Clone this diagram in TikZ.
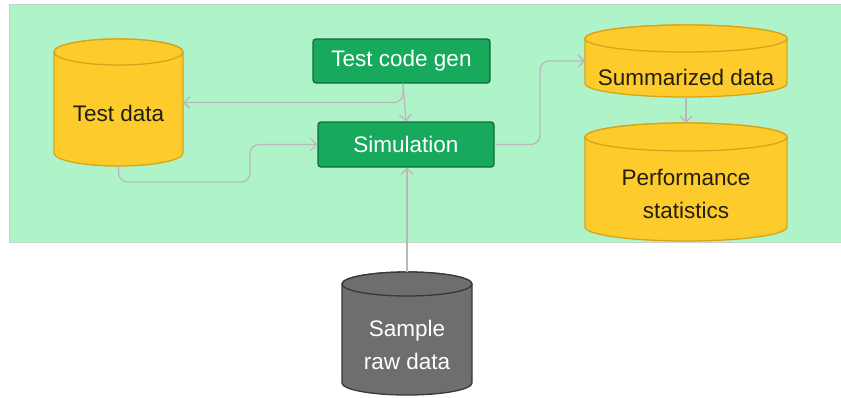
\documentclass[tikz,border=0pt]{standalone}
\usepackage{fontspec}
\setmainfont{Liberation Sans}
\usetikzlibrary{arrows.meta}
\definecolor{bggreen}{HTML}{AEF4C8}
\definecolor{bgedge}{HTML}{C9D3CD}
\definecolor{boxgreen}{HTML}{17AA5C}
\definecolor{boxedge}{HTML}{0C6E3A}
\definecolor{cylyellow}{HTML}{FDCB2C}
\definecolor{cyledge}{HTML}{D8A41A}
\definecolor{cylgray}{HTML}{6E6E6E}
\definecolor{cylgrayedge}{HTML}{383838}
\definecolor{conncol}{HTML}{B9B9B9}
\definecolor{darktext}{HTML}{221F10}
\newcommand\drawcyl[6]{%
  \pgfmathsetmacro\cylrx{(#3-#2)/2}%
  \pgfmathsetmacro\cylcx{(#3+#2)/2}%
  \path[#1] (#2,-#4) -- (#2,-#5) arc[start angle=180,end angle=360,x radius=\cylrx,y radius=#6]
     -- (#3,-#4) arc[start angle=0,end angle=180,x radius=\cylrx,y radius=#6] -- cycle;
  \path[#1] (\cylcx,-#4) ellipse[x radius=\cylrx, y radius=#6];
}
\tikzset{
  yellowcyl/.style={fill=cylyellow, draw=cyledge, line width=1.3pt},
  graycyl/.style={fill=cylgray, draw=cylgrayedge, line width=1.3pt},
  greenbox/.style={rectangle, rounded corners=3pt, fill=boxgreen, draw=boxedge, line width=1.3pt,
     text=white, font=\fontsize{22.5}{27}\selectfont, inner sep=0pt},
  hold/.style={rectangle, inner sep=0pt, outer sep=0pt},
  cyltext/.style={font=\fontsize{22.5}{32.5}\selectfont, align=center, inner sep=0pt},
  conn/.style={draw=conncol, line width=1.3pt, rounded corners=9pt,
     -{Straight Barb[length=6pt,width=12pt,line width=1.3pt]}},
}
\begin{document}
\begin{tikzpicture}[x=1pt,y=1pt]
\useasboundingbox (0,0) rectangle (841,-397);
% background panel
\path[fill=bggreen, draw=bgedge, line width=0.8pt] (9,-4) rectangle (842,-242);

% cylinders
\drawcyl{yellowcyl}{54}{183}{52}{153}{13}
\node[hold, minimum width=129pt, minimum height=127pt] (td) at (118.5,-102.5) {};
\node[cyltext, text=darktext] (tdl) at (118.5,-113) {Test data};

\drawcyl{yellowcyl}{585}{787}{38.5}{83.5}{13.5}
\node[hold, minimum width=202pt, minimum height=72pt] (summ) at (686,-61) {};
\node[cyltext, text=darktext] (summl) at (686,-77) {Summarized data};

\drawcyl{yellowcyl}{585}{787}{137}{227}{14}
\node[hold, minimum width=202pt, minimum height=118pt] (perf) at (686,-182) {};
\node[cyltext, text=darktext] (perfl) at (686,-194) {Performance\\statistics};

\drawcyl{graycyl}{342}{472}{284}{383}{12}
\node[hold, minimum width=130pt, minimum height=123pt] (raw) at (407,-333.5) {};
\node[cyltext, text=white] (rawl) at (407,-345) {Sample\\raw data};

% boxes
\node[greenbox, minimum width=177pt, minimum height=44pt] (tcg) at (401.5,-61) {Test code gen};
\node[greenbox, minimum width=176pt, minimum height=45pt] (sim) at (406,-144.5) {Simulation};

% connectors
\coordinate (tcgout) at ([xshift=1.5pt]tcg.south);
\draw[conn] (tcgout) -- (sim.north);
\draw[conn] (tcgout) |- (td.east);
\coordinate (tdturn) at (250,-182);
\draw[conn] (td.south) |- (tdturn) |- (sim.west);
\coordinate (simturn) at (540,-144.5);
\draw[conn] (sim.east) -- (simturn) |- (summ.west);
\draw[conn] (summ.south) -- (perf.north);
\draw[conn] (raw.north) -- (raw.north |- sim.south);
\end{tikzpicture}
\end{document}
